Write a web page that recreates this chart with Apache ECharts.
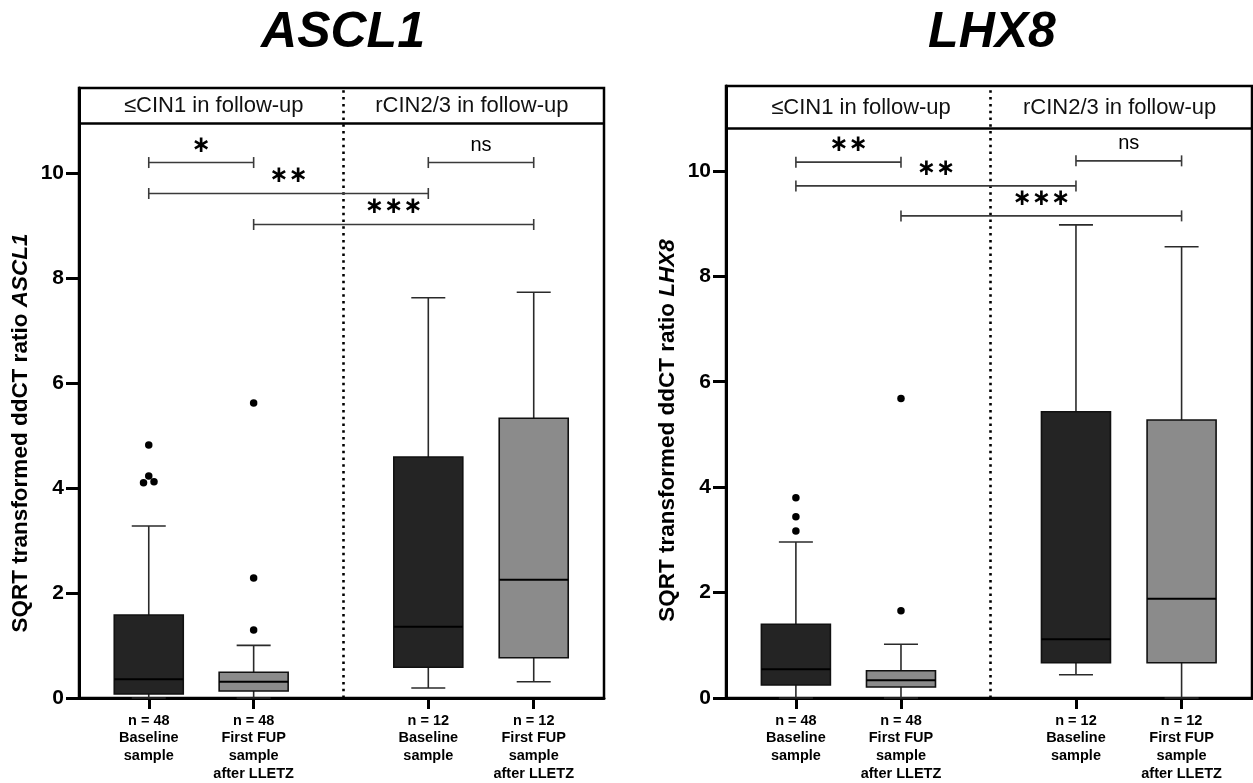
<!DOCTYPE html>
<html><head><meta charset="utf-8">
<script src="https://cdn.jsdelivr.net/npm/echarts@6/dist/echarts.min.js"></script>
<style>html,body{margin:0;padding:0;background:#fff}#c{width:1253px;height:783px}</style>
</head><body><div id="c"></div>
<script>
// ---------- data ----------
const catPositions = [1, 2, 3.665, 4.67];
const catLabels = ['n = 48\nBaseline\nsample', 'n = 48\nFirst FUP\nsample\nafter LLETZ', 'n = 12\nBaseline\nsample', 'n = 12\nFirst FUP\nsample\nafter LLETZ'];
const yTicks = [0, 2, 4, 6, 8, 10];
const groupLabels = ['≤CIN1 in follow-up', 'rCIN2/3 in follow-up'];
const groupLabelX = [1.62, 4.08];
const dividerX = 2.855;
const boxColors = ['#242424', '#8b8b8b', '#242424', '#8b8b8b'];

// [min, Q1, median, Q3, max]
const ascl1Boxes = [[0, 0.076, 0.356, 1.58, 3.276], [0, 0.133, 0.31, 0.49, 1.003], [0.19, 0.585, 1.358, 4.59, 7.625], [0.31, 0.768, 2.254, 5.33, 7.73]];
const ascl1Outliers = [[1, 4.82], [1, 4.23], [0.95, 4.10], [1.05, 4.12], [2, 5.62], [2, 2.286], [2, 1.295]];
const ascl1Brackets = [[1, 2, 10.2], [1, 3.665, 9.61], [2, 4.67, 9.02], [3.665, 4.67, 10.2]];
const ascl1BracketLabels = ['∗', '∗∗', '∗∗∗', 'ns'];

const lhx8Boxes = [[0, 0.247, 0.545, 1.398, 2.96], [0, 0.209, 0.336, 0.518, 1.019], [0.442, 0.67, 1.114, 5.43, 8.975], [0, 0.67, 1.884, 5.275, 8.56]];
const lhx8Outliers = [[1, 3.80], [1, 3.44], [1, 3.17], [2, 5.68], [2, 1.657]];
const lhx8Brackets = [[1, 2, 10.165], [1, 3.665, 9.715], [2, 4.67, 9.146], [3.665, 4.67, 10.19]];
const lhx8BracketLabels = ['∗∗', '∗∗', '∗∗∗', 'ns'];

const panels = [
  {gene: 'ASCL1', boxes: ascl1Boxes, outliers: ascl1Outliers, brackets: ascl1Brackets, bracketLabels: ascl1BracketLabels,
   grid: {left: 79, right: 649, top: 88, bottom: 85}, yMax: 11.62, headerY: 10.95, headerTextY: 11.27, titleX: 343,
   nameSize: 22.5, nameGap: 47, namePad: 80},
  {gene: 'LHX8', boxes: lhx8Boxes, outliers: lhx8Outliers, brackets: lhx8Brackets, bracketLabels: lhx8BracketLabels,
   grid: {left: 726, right: 1, top: 86, bottom: 85}, yMax: 11.61, headerY: 10.81, headerTextY: 11.19, titleX: 992,
   nameSize: 22.5, nameGap: 47, namePad: 77}
];

const FONT = 'Liberation Sans, Arial, Helvetica, sans-serif';

const grids = [], xAxes = [], yAxes = [], series = [], graphics = [];
panels.forEach((p, i) => {
  grids.push(Object.assign({show: true, borderColor: '#000', borderWidth: 2.5, backgroundColor: 'transparent'}, p.grid));
  xAxes.push({
    type: 'value', gridIndex: i, min: 0.335, max: 5.34,
    splitLine: {show: false},
    axisLine: {show: true, onZero: false, lineStyle: {color: '#000', width: 3}},
    axisTick: {show: true, customValues: catPositions, length: 11, lineStyle: {color: '#000', width: 3}},
    axisLabel: {show: true, customValues: catPositions, margin: 14, color: '#000', fontFamily: FONT, fontWeight: 'bold', fontSize: 14.5, lineHeight: 17.6,
      formatter: v => { const k = catPositions.findIndex(c => Math.abs(c - v) < 1e-6); return k >= 0 ? catLabels[k] : ''; }}
  });
  yAxes.push({
    type: 'value', gridIndex: i, min: 0, max: p.yMax,
    splitLine: {show: false},
    axisLine: {show: true, lineStyle: {color: '#000', width: 3}},
    axisTick: {show: true, customValues: yTicks, length: 13, lineStyle: {color: '#000', width: 3}},
    axisLabel: {show: true, customValues: yTicks, margin: 15, color: '#000', fontFamily: FONT, fontWeight: 'bold', fontSize: 21},
    name: '{n|SQRT transformed ddCT ratio }{g|' + p.gene + '}',
    nameLocation: 'middle', nameGap: p.nameGap, nameRotate: 90,
    nameTextStyle: {color: '#000', padding: [0, p.namePad, 0, 0],
      rich: {n: {fontFamily: FONT, fontWeight: 'bold', fontSize: p.nameSize, color: '#000'},
             g: {fontFamily: FONT, fontWeight: 'bold', fontStyle: 'italic', fontSize: p.nameSize, color: '#000'}}}
  });
  // boxes
  series.push({
    type: 'custom', xAxisIndex: i, yAxisIndex: i, z: 5,
    data: p.boxes.map((b, k) => ({value: [catPositions[k]].concat(b), itemStyle: {color: boxColors[k]}})),
    encode: {x: 0, y: [1, 2, 3, 4, 5]},
    renderItem: (params, api) => {
      const x = api.value(0);
      const lo = api.coord([x, api.value(1)]), q1 = api.coord([x, api.value(2)]), md = api.coord([x, api.value(3)]),
            q3 = api.coord([x, api.value(4)]), hi = api.coord([x, api.value(5)]);
      const cx = md[0], hw = 34.5, cw = 17;
      const ws = {stroke: '#2a2a2a', lineWidth: 1.6};
      return {type: 'group', children: [
        {type: 'line', shape: {x1: cx, y1: hi[1], x2: cx, y2: q3[1]}, style: ws},
        {type: 'line', shape: {x1: cx - cw, y1: hi[1], x2: cx + cw, y2: hi[1]}, style: ws},
        {type: 'line', shape: {x1: cx, y1: lo[1], x2: cx, y2: q1[1]}, style: ws},
        {type: 'line', shape: {x1: cx - cw, y1: lo[1], x2: cx + cw, y2: lo[1]}, style: ws},
        {type: 'rect', shape: {x: cx - hw, y: q3[1], width: 2 * hw, height: q1[1] - q3[1]}, style: {fill: api.visual('color'), stroke: '#111', lineWidth: 1.6}},
        {type: 'line', shape: {x1: cx - hw, y1: md[1], x2: cx + hw, y2: md[1]}, style: {stroke: '#000', lineWidth: 2}}
      ]};
    }
  });
  // outliers
  series.push({
    type: 'scatter', xAxisIndex: i, yAxisIndex: i, z: 6, symbol: 'circle', symbolSize: 7.5,
    itemStyle: {color: '#000', opacity: 1}, data: p.outliers,
    markLine: {silent: true, symbol: 'none', label: {show: false}, animation: false,
      data: [
        {xAxis: dividerX, lineStyle: {type: [2.5, 4.3], width: 2.6, color: '#000'}},
        {yAxis: p.headerY, lineStyle: {type: 'solid', width: 2.6, color: '#000'}}
      ]}
  });
  // significance brackets
  series.push({
    type: 'custom', xAxisIndex: i, yAxisIndex: i, z: 7,
    data: p.brackets, encode: {x: [0, 1], y: 2},
    renderItem: (params, api) => {
      const a = api.coord([api.value(0), api.value(2)]), b = api.coord([api.value(1), api.value(2)]);
      const st = {stroke: '#3a3a3a', lineWidth: 1.6};
      const lab = p.bracketLabels[params.dataIndex];
      const isNs = lab === 'ns';
      return {type: 'group', children: [
        {type: 'line', shape: {x1: a[0], y1: a[1], x2: b[0], y2: b[1]}, style: st},
        {type: 'line', shape: {x1: a[0], y1: a[1] - 5.5, x2: a[0], y2: a[1] + 5.5}, style: st},
        {type: 'line', shape: {x1: b[0], y1: b[1] - 5.5, x2: b[0], y2: b[1] + 5.5}, style: st},
        {type: 'text', x: (a[0] + b[0]) / 2, y: a[1] - 17,
         style: {text: lab, align: 'center', verticalAlign: 'middle', fill: '#000',
           font: isNs ? ('normal 20px ' + FONT) : 'bold 23px "DejaVu Sans"'}}
      ]};
    }
  });
  // group header texts
  series.push({
    type: 'custom', xAxisIndex: i, yAxisIndex: i, z: 7,
    data: groupLabelX.map(x => [x, p.headerTextY]), encode: {x: 0, y: 1},
    renderItem: (params, api) => {
      const pt = api.coord([api.value(0), api.value(1)]);
      return {type: 'text', x: pt[0], y: pt[1], style: {text: groupLabels[params.dataIndex], align: 'center', verticalAlign: 'middle', fill: '#111', font: 'normal 22px ' + FONT}};
    }
  });
  graphics.push({type: 'text', x: p.titleX, y: 33, style: {text: p.gene, align: 'center', verticalAlign: 'middle', fill: '#000', font: 'italic bold 50px ' + FONT}});
});

const chart = echarts.init(document.getElementById('c'), null, {renderer: 'canvas'});
chart.setOption({
  animation: false, backgroundColor: '#fff',
  grid: grids, xAxis: xAxes, yAxis: yAxes, series: series, graphic: graphics
});
</script></body></html>
